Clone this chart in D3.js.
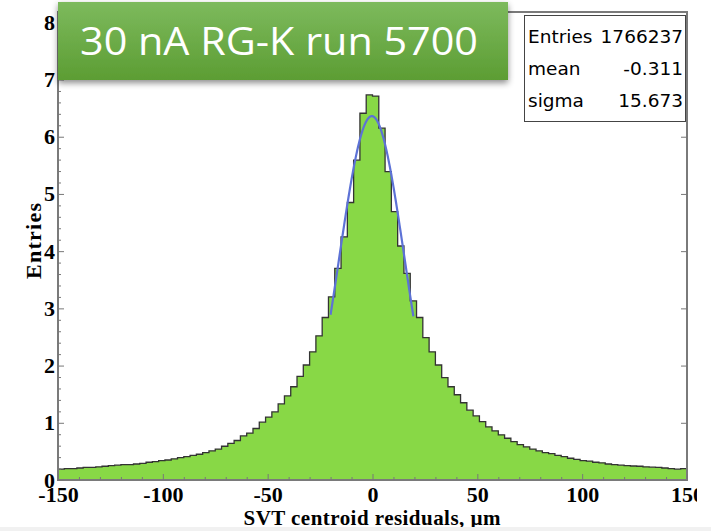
<!DOCTYPE html>
<html>
<head>
<meta charset="utf-8">
<script src="https://cdn.jsdelivr.net/npm/d3@7"></script>
<style>
  body { margin: 0; background: #fff; }
  svg { display: block; }
</style>
</head>
<body>
<svg width="711" height="531"></svg>
<script>
// histogram: 100 bins of 3 um from -150 to 150
var binStart = -150;
var binWidth = 3;
var entries = [
  0.19, 0.20, 0.20, 0.21, 0.22, 0.22, 0.23, 0.24, 0.25, 0.26,
  0.27, 0.27, 0.28, 0.29, 0.31, 0.32, 0.34, 0.35, 0.37, 0.39,
  0.41, 0.43, 0.45, 0.48, 0.51, 0.54, 0.59, 0.64, 0.69, 0.77,
  0.82, 0.90, 1.01, 1.10, 1.19, 1.33, 1.47, 1.63, 1.81, 2.01,
  2.24, 2.52, 2.84, 3.20, 3.70, 4.25, 4.85, 5.59, 6.41, 6.73,
  6.71, 6.15, 5.39, 4.69, 4.09, 3.61, 3.13, 2.84, 2.49, 2.24,
  2.01, 1.79, 1.63, 1.49, 1.35, 1.22, 1.12, 1.02, 0.93, 0.86,
  0.79, 0.73, 0.67, 0.62, 0.58, 0.54, 0.51, 0.48, 0.46, 0.43,
  0.41, 0.38, 0.36, 0.34, 0.33, 0.31, 0.30, 0.28, 0.27, 0.26,
  0.25, 0.245, 0.24, 0.23, 0.225, 0.22, 0.21, 0.20, 0.19, 0.20
];

// gaussian fit shown on top
var fitMean = -0.311;
var fitSigma = 15.673;
var fitAmp = 6.36;
var fitRange = [-20, 19.5];

var xMajor = [-150, -100, -50, 0, 50, 100, 150];
var yMajor = [0, 1, 2, 3, 4, 5, 6, 7, 8];

var statNames = ['Entries', 'mean', 'sigma'];
var statValues = ['1766237', '-0.311', '15.673'];

var title = '30 nA RG-K run 5700';

var svg = d3.select('svg');

var x = d3.scaleLinear().domain([-150, 150]).range([58, 687]);
var y = d3.scaleLinear().domain([0, 8.18]).range([480, 12]);

// step points for the histogram
var pts = [[binStart, 0]];
entries.forEach(function(v, i) {
    pts.push([binStart + i * binWidth, v]);
});
pts.push([binStart + entries.length * binWidth, entries[entries.length - 1]]);
pts.push([binStart + entries.length * binWidth, 0]);

svg.append('path')
    .datum(pts)
    .attr('d', d3.area()
        .x(function(d) { return x(d[0]); })
        .y0(y(0))
        .y1(function(d) { return y(d[1]); })
        .curve(d3.curveStepAfter))
    .attr('fill', '#88d846');

svg.append('path')
    .datum(pts)
    .attr('d', d3.line()
        .x(function(d) { return x(d[0]); })
        .y(function(d) { return y(d[1]); })
        .curve(d3.curveStepAfter))
    .attr('fill', 'none')
    .attr('stroke', '#333')
    .attr('stroke-width', 1.3);

// fit curve
var fitPts = d3.range(fitRange[0], fitRange[1] + 0.01, 0.25).map(function(t) {
    return [t, fitAmp * Math.exp(-Math.pow(t - fitMean, 2) / (2 * fitSigma * fitSigma))];
});
svg.append('path')
    .datum(fitPts)
    .attr('d', d3.line()
        .x(function(d) { return x(d[0]); })
        .y(function(d) { return y(d[1]); }))
    .attr('fill', 'none')
    .attr('stroke', '#5d72d6')
    .attr('stroke-width', 2.2);

// frame
svg.append('rect')
    .attr('x', x(-150)).attr('y', y.range()[1])
    .attr('width', x(150) - x(-150)).attr('height', y(0) - y.range()[1])
    .attr('fill', 'none')
    .attr('stroke', '#7a7a7a')
    .attr('stroke-width', 2);

var labelFont = '"Liberation Serif", "Times New Roman", serif';
var plainNum = function(d) { return String(d); };   // hyphen minus like ROOT

// x axis ticks (pointing inward)
var xMinor = d3.range(-150, 151, 10).filter(function(v) { return xMajor.indexOf(v) < 0; });
var gx = svg.append('g').attr('transform', 'translate(0,' + y(0) + ')');
gx.call(d3.axisBottom(x).tickValues(xMinor).tickSize(-3).tickFormat(''));
gx.call(function(g) {
    g.append('g').call(d3.axisBottom(x).tickValues(xMajor).tickSize(-6).tickPadding(6)
        .tickFormat(plainNum));
});
gx.selectAll('.domain').remove();
gx.selectAll('line').attr('stroke', '#777');
gx.selectAll('text')
    .attr('fill', '#000')
    .style('font-family', labelFont)
    .style('font-weight', 'bold')
    .style('font-size', '22px');

// y axis ticks
var yMinor = d3.range(0, 8.1, 0.2).filter(function(v) { return Math.abs(v - Math.round(v)) > 0.01; });
var gy = svg.append('g').attr('transform', 'translate(' + x(-150) + ',0)');
gy.call(d3.axisLeft(y).tickValues(yMinor).tickSize(-3).tickFormat(''));
gy.call(function(g) {
    g.append('g').call(d3.axisLeft(y).tickValues(yMajor).tickSize(-6).tickPadding(3)
        .tickFormat(plainNum));
});
gy.selectAll('.domain').remove();
gy.selectAll('line').attr('stroke', '#777');
gy.selectAll('text')
    .attr('fill', '#000')
    .style('font-family', labelFont)
    .style('font-weight', 'bold')
    .style('font-size', '22px');

// right side ticks
var gr = svg.append('g').attr('transform', 'translate(' + x(150) + ',0)');
gr.call(d3.axisRight(y).tickValues(yMajor).tickSize(-6).tickFormat(''));
gr.selectAll('.domain').remove();
gr.selectAll('line').attr('stroke', '#777');

// axis titles
svg.append('text')
    .attr('x', 372).attr('y', 525)
    .attr('text-anchor', 'middle')
    .attr('textLength', 257)
    .style('font-family', labelFont)
    .style('font-weight', 'bold')
    .style('font-size', '21px')
    .text('SVT centroid residuals, \u00b5m');

svg.append('text')
    .attr('transform', 'translate(41,241) rotate(-90)')
    .attr('text-anchor', 'middle')
    .attr('textLength', 76)
    .style('font-family', labelFont)
    .style('font-weight', 'bold')
    .style('font-size', '22px')
    .text('Entries');

// title banner
var defs = svg.append('defs');
var grad = defs.append('linearGradient')
    .attr('id', 'bannerGrad')
    .attr('x1', 0).attr('y1', 0).attr('x2', 0).attr('y2', 1);
grad.append('stop').attr('offset', '0%').attr('stop-color', '#7dba5d');
grad.append('stop').attr('offset', '100%').attr('stop-color', '#5c9d33');

var shadow = defs.append('filter')
    .attr('id', 'shadow')
    .attr('x', '-10%').attr('y', '-10%').attr('width', '120%').attr('height', '140%');
shadow.append('feDropShadow')
    .attr('dx', 0).attr('dy', 3)
    .attr('stdDeviation', 3)
    .attr('flood-color', '#000')
    .attr('flood-opacity', 0.45);

svg.append('rect')
    .attr('x', 58).attr('y', 2)
    .attr('width', 450).attr('height', 78)
    .attr('fill', 'url(#bannerGrad)')
    .attr('filter', 'url(#shadow)');

svg.append('text')
    .attr('x', 80).attr('y', 55)
    .attr('textLength', 398)
    .attr('lengthAdjust', 'spacingAndGlyphs')
    .attr('fill', '#fff')
    .style('font-family', '"Open Sans", sans-serif')
    .style('font-size', '39px')
    .text(title);

// stats box
svg.append('rect')
    .attr('x', 524.5).attr('y', 15.5)
    .attr('width', 161).attr('height', 106)
    .attr('fill', '#fff')
    .attr('stroke', '#444')
    .attr('stroke-width', 1);

var statFont = '"DejaVu Sans", sans-serif';
statNames.forEach(function(name, i) {
    svg.append('text')
        .attr('x', 528).attr('y', 43 + i * 32)
        .style('font-family', statFont)
        .style('font-size', '18.5px')
        .text(name);
    svg.append('text')
        .attr('x', 683).attr('y', 43 + i * 32)
        .attr('text-anchor', 'end')
        .style('font-family', statFont)
        .style('font-size', '18.5px')
        .text(statValues[i]);
});

// page edge clipping, as in the source screenshot
svg.append('rect')
    .attr('x', 697).attr('y', 484).attr('width', 14).attr('height', 47)
    .attr('fill', '#fff');
svg.append('rect')
    .attr('x', 0).attr('y', 527).attr('width', 711).attr('height', 4)
    .attr('fill', '#f1f1f1');
</script>
</body>
</html>
